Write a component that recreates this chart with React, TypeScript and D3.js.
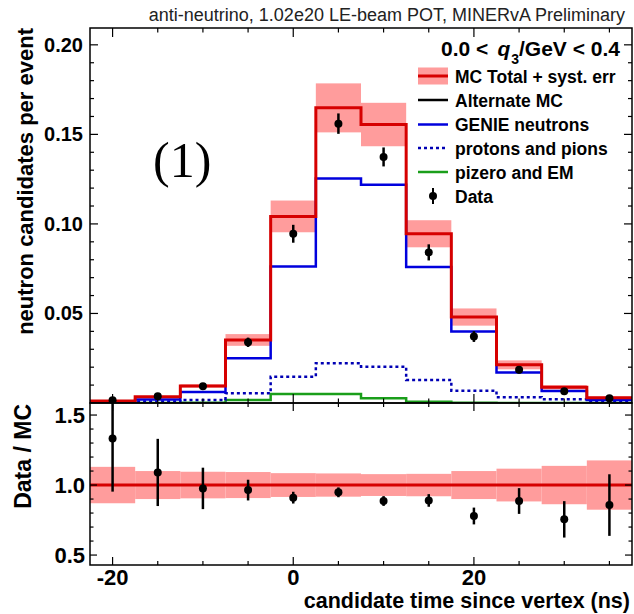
import React from "react";
import * as d3 from "d3";

const binEdges = [-22.5, -17.5, -12.5, -7.5, -2.5, 2.5, 7.5, 12.5, 17.5, 22.5, 27.5, 32.5, 37.5];
const binCenters = [-20, -15, -10, -5, 0, 5, 10, 15, 20, 25, 30, 35];
const mcTotal = [0.0011, 0.0035, 0.0095, 0.0352, 0.1042, 0.1648, 0.1555, 0.0945, 0.048, 0.0213, 0.0088, 0.003];
const genieNeutrons = [0.0006, 0.002, 0.0061, 0.025, 0.0762, 0.1254, 0.1219, 0.0759, 0.0399, 0.017, 0.0067, 0.0017];
const protonsPions = [0.0003, 0.0008, 0.0017, 0.0054, 0.0147, 0.0222, 0.0203, 0.0129, 0.0069, 0.0032, 0.0021, 0.0012];
const pizeroEM = [0, 0, 0.0002, 0.0017, 0.005, 0.005, 0.0026, 0.0007, 0.0001, 0, 0, 0];
const dataVals = [0.0015, 0.0038, 0.0093, 0.0339, 0.0945, 0.156, 0.1374, 0.0841, 0.0371, 0.0185, 0.0066, 0.0026];
const dataErr = [0.0006, 0.0008, 0.0013, 0.0026, 0.005, 0.0057, 0.0053, 0.0045, 0.003, 0.002, 0.0012, 0.0007];
const systRelErr = [0.13, 0.1, 0.095, 0.093, 0.085, 0.083, 0.078, 0.08, 0.1, 0.117, 0.137, 0.176];
const ratioVals = [1.333, 1.09, 0.976, 0.964, 0.91, 0.948, 0.886, 0.89, 0.779, 0.886, 0.755, 0.857];
const ratioErr = [0.38, 0.24, 0.148, 0.074, 0.042, 0.035, 0.035, 0.045, 0.06, 0.092, 0.13, 0.22];

const topTicks = [0.05, 0.1, 0.15, 0.2];
const bottomTicks = [0.5, 1.0, 1.5];
const xTicks = [-20, 0, 20];
const legendLabels = ["MC Total + syst. err", "Alternate MC", "GENIE neutrons", "protons and pions", "pizero and EM", "Data"];

const RED = "#d60000";
const BAND = "#ff9c9c";
const BLUE = "#0000dd";
const DOTBLUE = "#0000b4";
const GREEN = "#1a9e1a";
const SANS = "'Liberation Sans', Arial, Helvetica, sans-serif";

export default function App() {
  const L = 90, R = 632, T = 28, M = 403, B = 565;
  const x = d3.scaleLinear().domain([-22.5, 37.5]).range([L, R]);
  const yT = d3.scaleLinear().domain([0, 0.2094]).range([M, T]);
  const yB = d3.scaleLinear().domain([0.429, 1.586]).range([B, M]);

  const stepPath = (vals: number[], y: d3.ScaleLinear<number, number>) => {
    const pts: [number, number][] = vals.map((v, i) => [binEdges[i], v]);
    pts.push([binEdges[binEdges.length - 1], vals[vals.length - 1]]);
    return d3.line<[number, number]>().x((d) => x(d[0])).y((d) => y(d[1])).curve(d3.curveStepAfter)(pts) || "";
  };

  const minorX = d3.range(-20, 36, 5);
  const minorTop = d3.range(0.01, 0.205, 0.01);
  const minorBot = d3.range(0.5, 1.55, 0.1);

  const tickW = 1.2;
  const legX0 = 418, legX1 = 448, legTextX = 455;
  const legY = [76, 100, 124.5, 148, 172, 196];

  return (
    <svg width={634} height={614} style={{ position: "absolute", left: 0, top: 0, background: "#fff" }} fontFamily={SANS}>
      <defs>
        <clipPath id="clipTop"><rect x={L} y={T} width={R - L} height={M - T} /></clipPath>
        <clipPath id="clipBot"><rect x={L} y={M} width={R - L} height={B - M} /></clipPath>
      </defs>
      <rect width={634} height={614} fill="#fff" />

      {/* title */}
      <text x={625} y={21} textAnchor="end" fontSize={18} fill="#222">anti-neutrino, 1.02e20 LE-beam POT, MINERvA Preliminary</text>

      {/* top pad content */}
      <g clipPath="url(#clipTop)">
        {mcTotal.map((v, i) => (
          <rect key={"b" + i} x={x(binEdges[i])} width={x(binEdges[i + 1]) - x(binEdges[i])}
            y={yT(v * (1 + systRelErr[i]))} height={yT(v * (1 - systRelErr[i])) - yT(v * (1 + systRelErr[i]))} fill={BAND} />
        ))}
        <path d={stepPath(pizeroEM, yT)} fill="none" stroke={GREEN} strokeWidth={2.5} />
        <path d={stepPath(protonsPions, yT)} fill="none" stroke={DOTBLUE} strokeWidth={2.5} strokeDasharray="3,3" />
        <path d={stepPath(genieNeutrons, yT)} fill="none" stroke={BLUE} strokeWidth={2.5} />
        <path d={stepPath(mcTotal, yT)} fill="none" stroke={RED} strokeWidth={3} />
        {dataVals.map((v, i) => (
          <g key={"d" + i}>
            <line x1={x(binCenters[i])} x2={x(binCenters[i])} y1={yT(v - dataErr[i])} y2={yT(v + dataErr[i])} stroke="#000" strokeWidth={2.5} />
            <circle cx={x(binCenters[i])} cy={yT(v)} r={4} fill="#000" />
          </g>
        ))}
      </g>

      {/* bottom pad content */}
      <g clipPath="url(#clipBot)">
        {ratioErr.map((e, i) => (
          <rect key={"rb" + i} x={x(binEdges[i])} width={x(binEdges[i + 1]) - x(binEdges[i])}
            y={yB(1 + systRelErr[i])} height={yB(1 - systRelErr[i]) - yB(1 + systRelErr[i])} fill={BAND} />
        ))}
        <line x1={L} x2={R} y1={yB(1)} y2={yB(1)} stroke={RED} strokeWidth={3} />
        {ratioVals.map((v, i) => (
          <g key={"r" + i}>
            <line x1={x(binCenters[i])} x2={x(binCenters[i])} y1={yB(v - ratioErr[i])} y2={yB(v + ratioErr[i])} stroke="#000" strokeWidth={2.5} />
            <circle cx={x(binCenters[i])} cy={yB(v)} r={4} fill="#000" />
          </g>
        ))}
      </g>

      {/* frames */}
      <rect x={L} y={T} width={R - L} height={M - T} fill="none" stroke="#000" strokeWidth={1.5} />
      <rect x={L} y={M} width={R - L} height={B - M} fill="none" stroke="#000" strokeWidth={1.5} />

      {/* top pad ticks */}
      {minorTop.map((v, i) => {
        const major = Math.abs(v / 0.05 - Math.round(v / 0.05)) < 1e-6;
        const len = major ? 8 : 4;
        return (
          <g key={"tt" + i} stroke="#000" strokeWidth={tickW}>
            <line x1={L} x2={L + len} y1={yT(v)} y2={yT(v)} />
            <line x1={R} x2={R - len} y1={yT(v)} y2={yT(v)} />
          </g>
        );
      })}
      {minorX.map((v, i) => {
        const major = v % 20 === 0;
        const lenT = major ? 9 : 4.5;
        const lenB = major ? 8 : 4;
        return (
          <g key={"xt" + i} stroke="#000" strokeWidth={tickW}>
            <line x1={x(v)} x2={x(v)} y1={T} y2={T + lenT} />
            <line x1={x(v)} x2={x(v)} y1={M} y2={M - lenT} />
            <line x1={x(v)} x2={x(v)} y1={M} y2={M + lenB} />
            <line x1={x(v)} x2={x(v)} y1={B} y2={B - lenB} />
          </g>
        );
      })}
      {minorBot.map((v, i) => {
        const major = Math.abs(v / 0.5 - Math.round(v / 0.5)) < 1e-6;
        const len = major ? 7 : 3.5;
        return (
          <g key={"bt" + i} stroke="#000" strokeWidth={tickW}>
            <line x1={L} x2={L + len} y1={yB(v)} y2={yB(v)} />
            <line x1={R} x2={R - len} y1={yB(v)} y2={yB(v)} />
          </g>
        );
      })}

      {/* tick labels */}
      {topTicks.map((v) => (
        <text key={"tl" + v} x={83} y={yT(v) + 7} textAnchor="end" fontSize={20} fontWeight="bold">{d3.format(".2f")(v)}</text>
      ))}
      {bottomTicks.map((v) => (
        <text key={"bl" + v} x={85} y={yB(v) + 8} textAnchor="end" fontSize={22} fontWeight="bold">{d3.format(".1f")(v)}</text>
      ))}
      {xTicks.map((v) => (
        <text key={"xl" + v} x={x(v)} y={585} textAnchor="middle" fontSize={22} fontWeight="bold">{v}</text>
      ))}

      {/* axis titles */}
      <text transform="translate(33,28) rotate(-90)" textAnchor="end" fontSize={22} fontWeight="bold">neutron candidates per event</text>
      <text transform="translate(31,404) rotate(-90)" textAnchor="end" fontSize={23} fontWeight="bold">Data / MC</text>
      <text x={630} y={608} textAnchor="end" fontSize={21.5} fontWeight="bold">candidate time since vertex (ns)</text>

      {/* panel label */}
      <text x={153} y={177} fontSize={50} fontFamily="'Liberation Serif', 'Times New Roman', serif">(1)</text>

      {/* header */}
      <text x={620} y={56} textAnchor="end" fontSize={21} fontWeight="bold">
        <tspan>0.0 &lt;</tspan>
        <tspan dx={9} fontStyle="italic">q</tspan>
        <tspan fontSize={14} dy={8} dx={1}>3</tspan>
        <tspan dy={-8} dx={0}>/GeV &lt; 0.4</tspan>
      </text>

      {/* legend */}
      <rect x={legX0} y={legY[0] - 8.5} width={legX1 - legX0} height={17} fill={BAND} />
      <line x1={legX0} x2={legX1} y1={legY[0]} y2={legY[0]} stroke={RED} strokeWidth={3} />
      <line x1={legX0} x2={legX1} y1={legY[1]} y2={legY[1]} stroke="#000" strokeWidth={2.5} />
      <line x1={legX0} x2={legX1} y1={legY[2]} y2={legY[2]} stroke={BLUE} strokeWidth={2.5} />
      <line x1={legX0} x2={legX1} y1={legY[3]} y2={legY[3]} stroke={DOTBLUE} strokeWidth={2.5} strokeDasharray="3,3" />
      <line x1={legX0} x2={legX1} y1={legY[4]} y2={legY[4]} stroke={GREEN} strokeWidth={2.5} />
      <line x1={433} x2={433} y1={legY[5] - 8} y2={legY[5] + 8} stroke="#000" strokeWidth={2} />
      <circle cx={433} cy={legY[5]} r={4} fill="#000" />
      {legendLabels.map((t, i) => (
        <text key={t} x={legTextX} y={legY[i] + 6.5} fontSize={17.5} fontWeight="bold">{t}</text>
      ))}
    </svg>
  );
}
